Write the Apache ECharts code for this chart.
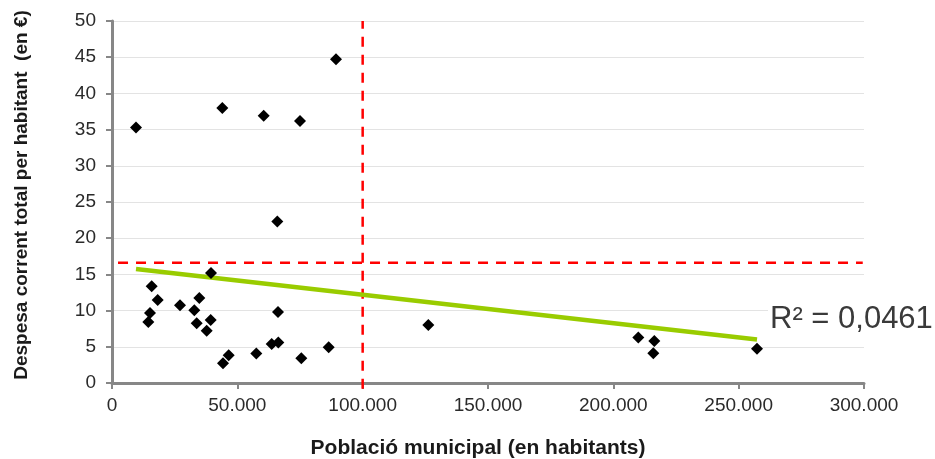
<!DOCTYPE html>
<html>
<head>
<meta charset="utf-8">
<script src="https://cdn.jsdelivr.net/npm/echarts@6/dist/echarts.min.js"></script>
<style>html,body{margin:0;padding:0;background:#fff}#c{width:935px;height:459px}</style>
</head>
<body>
<div id="c"></div>
<script>
// Population (x) and current expenditure per inhabitant (y)
var population = [9574, 44003, 60505, 75000, 89362, 65957, 39495, 15824, 18218, 15160, 14495, 27128, 34840, 32846, 33777, 39362, 37766, 66223, 63697, 66356, 44282, 46543, 57580, 75532, 86436, 126197, 209973, 216356, 215957, 257314];
var spending   = [35.3, 38.0, 36.9, 36.2, 44.7, 22.3, 15.2, 13.35, 11.47, 9.68, 8.44, 10.73, 11.75, 10.04, 8.25, 8.71, 7.2, 9.82, 5.4, 5.59, 2.73, 3.84, 4.07, 3.42, 4.94, 8.02, 6.27, 5.81, 4.11, 4.72];
// Linear trend line endpoints (as drawn)
var trendX = [9574, 257314];
var trendY = [15.75, 6.0];
var r2Label = 'R² = 0,0461';
// Reference lines
var hRefX = [2400, 299500];
var hRefY = 16.6;
var vRefX = 100000;
var vRefY = [-0.8, 50];
var xTicks = [0, 50000, 100000, 150000, 200000, 250000, 300000];
var yTicks = [0, 5, 10, 15, 20, 25, 30, 35, 40, 45, 50];
var xTitle = 'Població municipal (en habitants)';
var yTitle = 'Despesa corrent total per habitant  (en €)';

function fmtThousands(v){ return String(v).replace(/\B(?=(\d{3})+(?!\d))/g, '.'); }

var chart = echarts.init(document.getElementById('c'), null, {renderer:'canvas'});
var scatterData = population.map(function(x,i){ return [x, spending[i]]; });
var option = {
  animation:false,
  backgroundColor:'#fff',
  grid:{left:112, right:71, top:21, bottom:76},
  xAxis:{
    type:'value', min:xTicks[0], max:xTicks[xTicks.length-1], interval:50000,
    axisLine:{lineStyle:{color:'#878787', width:3}},
    axisTick:{show:true, length:6, lineStyle:{color:'#878787', width:2}},
    axisLabel:{color:'#2a2a2a', fontSize:19, fontFamily:'Liberation Sans, Arial', margin:13, formatter:fmtThousands},
    splitLine:{show:false}
  },
  yAxis:{
    type:'value', min:yTicks[0], max:yTicks[yTicks.length-1], interval:5,
    axisLine:{show:true, lineStyle:{color:'#878787', width:3}},
    axisTick:{show:true, length:6, lineStyle:{color:'#878787', width:2}},
    axisLabel:{color:'#2a2a2a', fontSize:19, fontFamily:'Liberation Sans, Arial', margin:16},
    splitLine:{show:true, lineStyle:{color:'#e3e3e3', width:1}}
  },
  graphic:[
    {type:'text', x:478, y:448, style:{text:xTitle, fill:'#1a1a1a', font:'bold 21px "Liberation Sans", Arial', textAlign:'center', textVerticalAlign:'middle'}},
    {type:'text', x:22, y:195, rotation:Math.PI/2, style:{text:yTitle, fill:'#1a1a1a', font:'bold 19px "Liberation Sans", Arial', textAlign:'center', textVerticalAlign:'middle'}},
    {type:'text', x:768, y:319, z:10, style:{text:r2Label, fill:'#3a3a3a', font:'31px "Liberation Sans", Arial', textAlign:'left', textVerticalAlign:'middle', backgroundColor:'#fff', padding:[0,2,0,2]}}
  ],
  series:[
    {type:'line', data:[[hRefX[0], hRefY],[hRefX[1], hRefY]], symbol:'none', clip:false, z:1,
     lineStyle:{color:'#ff0000', width:2.5, type:[10,8]}},
    {type:'line', data:[[vRefX, vRefY[0]],[vRefX, vRefY[1]]], symbol:'none', clip:false, z:1,
     lineStyle:{color:'#ff0000', width:2.5, type:[10,8]}},
    {type:'line', data:[[trendX[0], trendY[0]],[trendX[1], trendY[1]]], symbol:'none', z:2,
     lineStyle:{color:'#99cc00', width:4.5}},
    {type:'scatter', data:scatterData, symbol:'diamond', symbolSize:[12,12], z:3,
     itemStyle:{color:'#000', opacity:1}}
  ]
};
chart.setOption(option);
</script>
</body>
</html>
